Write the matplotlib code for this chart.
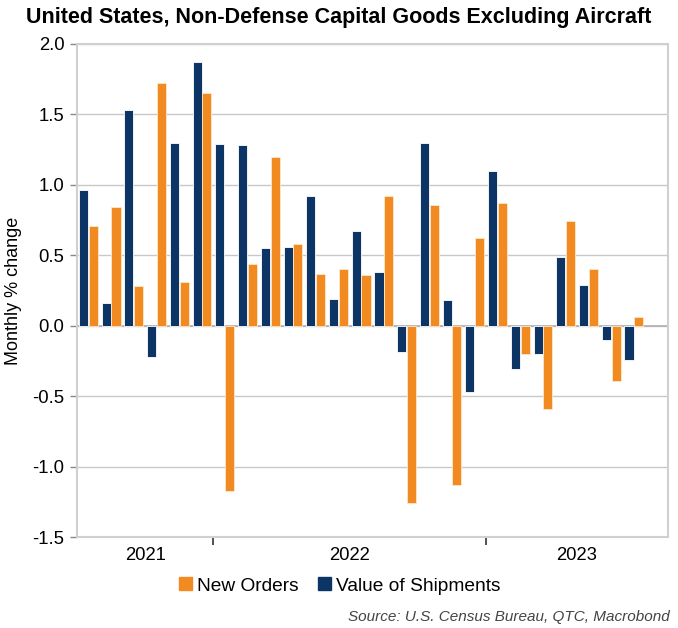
import matplotlib
matplotlib.use("Agg")
import matplotlib.pyplot as plt
import numpy as np
from matplotlib.patches import Patch

plt.rcParams['font.family'] = ['Liberation Sans', 'DejaVu Sans']

months = ["Jul 2021", "Aug 2021", "Sep 2021", "Oct 2021", "Nov 2021", "Dec 2021",
          "Jan 2022", "Feb 2022", "Mar 2022", "Apr 2022", "May 2022", "Jun 2022",
          "Jul 2022", "Aug 2022", "Sep 2022", "Oct 2022", "Nov 2022", "Dec 2022",
          "Jan 2023", "Feb 2023", "Mar 2023", "Apr 2023", "May 2023", "Jun 2023",
          "Jul 2023"]
shipments = [0.96, 0.16, 1.53, -0.22, 1.30, 1.87, 1.29, 1.28, 0.55, 0.56,
             0.92, 0.19, 0.67, 0.38, -0.19, 1.30, 0.18, -0.47, 1.10, -0.31,
             -0.20, 0.49, 0.29, -0.10, -0.24]
new_orders = [0.71, 0.84, 0.28, 1.72, 0.31, 1.65, -1.17, 0.44, 1.20, 0.58,
              0.37, 0.40, 0.36, 0.92, -1.26, 0.86, -1.13, 0.62, 0.87, -0.20,
              -0.59, 0.74, 0.40, -0.39, 0.06]
year_labels = ["2021", "2022", "2023"]

navy = "#0c3566"
orange = "#f28a22"

fig = plt.figure(figsize=(6.78, 6.28), dpi=100)
ax = fig.add_axes([77/678, 1-537/628, (668-77)/678, (537-44)/628])

x = np.arange(len(months))
w = 0.40
ax.bar(x - 0.215, shipments, width=w, color=navy, edgecolor="#ffffff", linewidth=0.6, zorder=3)
ax.bar(x + 0.215, new_orders, width=w, color=orange, edgecolor="#ffe8cc", linewidth=0.6, zorder=3)

ax.set_xlim(-0.5, 25.5)
ax.set_ylim(-1.5, 2.0)
yt = np.arange(-1.5, 2.01, 0.5)
ax.set_yticks(yt)
ax.set_yticklabels([f"{v:.1f}" for v in yt], fontsize=13.3)
ax.grid(axis='y', color="#c8c8c8", linewidth=1.0, zorder=0)
ax.axhline(0, color="#b0b0b0", linewidth=1.2, zorder=2)
ax.tick_params(axis='y', length=5, color="#888888", width=1, pad=4)

# year separators and labels
ax.set_xticks([5.5, 17.5])
ax.set_xticklabels(["", ""])
ax.tick_params(axis='x', length=6, color="#333333", width=1.2)
ax.set_xticks([2.5, 11.5, 21.5], minor=True)
ax.set_xticklabels(year_labels, minor=True, fontsize=13.3)
ax.tick_params(axis='x', which='minor', length=0, pad=7)

for s in ['left', 'bottom', 'right', 'top']:
    ax.spines[s].set_color("#d0d0d0")
    ax.spines[s].set_linewidth(1.5)

ax.set_ylabel("Monthly % change", fontsize=13)
ax.yaxis.set_label_coords(-0.093, 0.5)

fig.text(0.5, 1-18/628, "United States, Non-Defense Capital Goods Excluding Aircraft",
         ha='center', va='center', fontsize=15.5, fontweight='bold')

handles = [Patch(color=orange, label="New Orders"), Patch(color=navy, label="Value of Shipments")]
fig.legend(handles=handles, loc='center', bbox_to_anchor=(340/678, 1-586/628), ncol=2,
           frameon=False, fontsize=13.8, handlelength=0.65, handleheight=0.65,
           handletextpad=0.3, columnspacing=1.0)

fig.text(670/678, 1-617/628, "Source: U.S. Census Bureau, QTC, Macrobond", ha='right',
         va='center', fontsize=11, style='italic', color="#444444")

fig.savefig("out.png", dpi=100)
